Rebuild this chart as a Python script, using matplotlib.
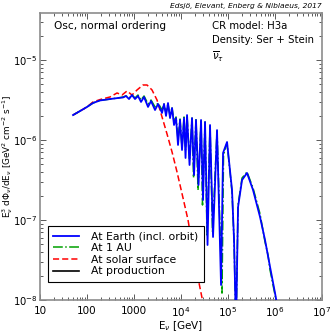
import matplotlib
matplotlib.use("Agg")
import matplotlib.pyplot as plt
from matplotlib.ticker import FixedLocator, FixedFormatter, LogLocator, NullFormatter

# energies [GeV] and E^3 dPhi/dE values
earth_E = [50.4, 71, 100, 134, 189, 309, 457, 583, 676, 783, 906, 1050, 1216, 1409,
           1633, 1986, 2300, 2799, 3243, 3945, 4348, 4797, 5284, 5834, 6442, 7096,
           7834, 8630, 9528, 10500, 11590, 12470, 13430, 15170, 17140, 18920, 20840,
           23550, 26670, 29380, 32430, 36640, 41400, 47970, 58340, 70960, 78340,
           95280, 121600, 134300, 147900, 163300, 198600, 253500, 340400, 479700,
           612400, 783400, 1.0e6, 1.159e6]
earth_flux = [2.05e-6, 2.30e-6, 2.59e-6, 2.90e-6, 3.12e-6, 3.25e-6, 3.35e-6, 3.40e-6,
              3.55e-6, 3.25e-6, 3.65e-6, 3.25e-6, 3.55e-6, 2.99e-6, 3.45e-6, 2.59e-6,
              3.07e-6, 2.37e-6, 2.82e-6, 2.18e-6, 2.82e-6, 2.0e-6, 2.90e-6, 1.88e-6,
              2.51e-6, 1.54e-6, 1.88e-6, 8.66e-7, 1.78e-6, 7.50e-7, 1.88e-6, 5.96e-7,
              2.05e-6, 4.87e-7, 1.88e-6, 3.65e-7, 1.78e-6, 2.74e-7, 1.78e-6, 1.78e-7,
              1.68e-6, 4.87e-8, 1.54e-6, 6.13e-8, 1.33e-6, 1.54e-8, 6.88e-7, 9.44e-7,
              2.37e-7, 5.62e-8, 4.2e-9, 1.45e-7, 3.16e-7, 3.87e-7, 2.37e-7, 1.09e-7,
              5.62e-8, 2.59e-8, 1.22e-8, 7.5e-9]

au_E = [50.4, 71, 100, 134, 189, 309, 457, 583, 676, 783, 906, 1050, 1216, 1409,
        1633, 1986, 2300, 2799, 3243, 3945, 4348, 4797, 5284, 5834, 6442, 7096,
        7834, 8630, 9528, 10500, 11590, 12470, 13430, 15170, 17140, 18450, 20840,
        23010, 26670, 28640, 32430, 35730, 41400, 46770, 58340, 74470, 80170,
        95280, 121600, 134300, 147900, 163300, 198600, 253500, 340400, 479700,
        612400, 709600, 783400, 905800, 1.104e6]
au_flux = [2.05e-6, 2.30e-6, 2.59e-6, 2.90e-6, 3.12e-6, 3.25e-6, 3.35e-6, 3.45e-6,
           3.55e-6, 3.35e-6, 3.65e-6, 3.35e-6, 3.65e-6, 3.16e-6, 3.55e-6, 2.82e-6,
           3.16e-6, 2.59e-6, 2.90e-6, 2.37e-6, 2.82e-6, 2.18e-6, 2.82e-6, 2.0e-6,
           2.51e-6, 1.68e-6, 1.94e-6, 1.0e-6, 1.83e-6, 7.94e-7, 1.94e-6, 7.50e-7,
           2.0e-6, 5.62e-7, 1.88e-6, 3.35e-7, 1.83e-6, 2.37e-7, 1.73e-6, 1.54e-7,
           1.68e-6, 6.49e-8, 1.50e-6, 7.08e-8, 1.30e-6, 1.22e-8, 6.49e-7, 9.17e-7,
           2.24e-7, 5.31e-8, 4.2e-9, 1.54e-7, 3.35e-7, 3.98e-7, 2.51e-7, 1.19e-7,
           5.31e-8, 3.65e-8, 2.37e-8, 1.54e-8, 8.66e-9]

sun_E = [50.4, 71, 100, 134, 189, 309, 435, 556, 710, 906, 1159, 1553, 1891, 2415,
         3085, 3945, 5035, 6442, 8222, 11040, 14090, 17990, 23010, 27990, 30860]
sun_flux = [2.05e-6, 2.30e-6, 2.59e-6, 2.99e-6, 3.2e-6, 3.45e-6, 3.87e-6, 3.65e-6,
            4.10e-6, 3.65e-6, 4.22e-6, 4.87e-6, 4.87e-6, 4.22e-6, 3.16e-6, 1.94e-6,
            1.19e-6, 7.08e-7, 3.98e-7, 1.88e-7, 1.0e-7, 4.22e-8, 1.88e-8, 1.06e-8,
            7.5e-9]

xtick_vals = [10, 100, 1000, 1e4, 1e5, 1e6, 1e7]
xtick_labels = ["10", "100", "1000", r"$10^4$", r"$10^5$", r"$10^6$", r"$10^7$"]

plt.rcParams['font.family'] = ['DejaVu Sans']
plt.rcParams['mathtext.fontset'] = 'dejavusans'

fig = plt.figure(figsize=(3.32, 3.32), dpi=100)
ax = fig.add_axes([0.1205, 0.0964, 0.8495, 0.8645])

ax.plot([], [], color='k', lw=1.2, label='At production', zorder=1)
ax.plot(sun_E, sun_flux, color='#ff0000', lw=1.1, ls=(0, (4, 2)), label='At solar surface', zorder=2)
ax.plot(au_E, au_flux, color='#00a000', lw=1.1, ls='-.', label='At 1 AU', zorder=3)
ax.plot(earth_E, earth_flux, color='#0000ff', lw=1.3, label='At Earth (incl. orbit)', zorder=4)

ax.set_xscale('log')
ax.set_yscale('log')
ax.set_xlim(10, 1e7)
ax.set_ylim(1e-8, 3.87e-5)

ax.xaxis.set_major_locator(FixedLocator(xtick_vals))
ax.xaxis.set_major_formatter(FixedFormatter(xtick_labels))
ax.xaxis.set_minor_locator(LogLocator(base=10, subs=range(2, 10), numticks=20))
ax.xaxis.set_minor_formatter(NullFormatter())
ax.yaxis.set_minor_locator(LogLocator(base=10, subs=range(2, 10), numticks=20))
ax.yaxis.set_minor_formatter(NullFormatter())

ax.tick_params(which='both', direction='in', top=True, right=True, colors='0.35',
               labelcolor='k', labelsize=7.5, width=0.7)
ax.tick_params(which='major', length=4, pad=2)
ax.tick_params(which='minor', length=2)
ax.tick_params(axis='x', which='major', pad=4)
ax.tick_params(axis='y', which='major', labelsize=7.2, pad=1.5)
for s in ax.spines.values():
    s.set_color('0.55')
    s.set_linewidth(1.2)

ax.set_xlabel(r'E$_\nu$ [GeV]', fontsize=7.5, labelpad=0)
ax.set_ylabel(r'E$^3_\nu$ d$\Phi_\nu$/dE$_\nu$ [GeV$^2$ cm$^{-2}$ s$^{-1}$]', fontsize=6.4)
ax.yaxis.set_label_coords(-0.088, 0.5)

ax.text(0.05, 0.972, 'Osc, normal ordering', transform=ax.transAxes, fontsize=7.6, va='top')
ax.text(0.61, 0.972, 'CR model: H3a', transform=ax.transAxes, fontsize=7.3, va='top')
ax.text(0.61, 0.922, 'Density: Ser + Stein', transform=ax.transAxes, fontsize=7.3, va='top')
ax.text(0.61, 0.872, r'$\overline{\nu}_\tau$', transform=ax.transAxes, fontsize=7.3, va='top')
fig.text(0.97, 0.99, 'Edsjö, Elevant, Enberg & Niblaeus, 2017', fontsize=5.4,
         style='italic', ha='right', va='top')

handles, labels = ax.get_legend_handles_labels()
order = [3, 2, 1, 0]
leg = ax.legend([handles[i] for i in order], [labels[i] for i in order],
                loc='lower left', bbox_to_anchor=(0.028, 0.063), fontsize=7.8,
                fancybox=False, framealpha=1, edgecolor='k', handlelength=2.4,
                handletextpad=1.1, labelspacing=0.15, borderpad=0.5, borderaxespad=0)
leg.get_frame().set_linewidth(0.8)

plt.savefig('out.png', dpi=100)
